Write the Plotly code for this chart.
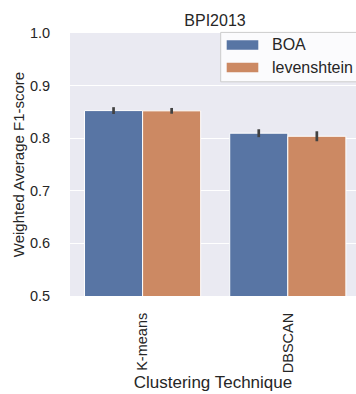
import plotly.graph_objects as go

# Weighted average F1-score per clustering technique on BPI2013
techniques = ["K-means", "DBSCAN"]
series_names = ["BOA", "levenshtein"]
f1_boa = [0.8525, 0.8095]
f1_lev = [0.8520, 0.8037]
ci_boa = [0.0065, 0.0075]
ci_lev = [0.0055, 0.0095]
y_ticks = [0.5, 0.6, 0.7, 0.8, 0.9, 1.0]

colors = ["#5875a4", "#cc8963"]
err_color = "#424242"
text_color = "#262626"
font_family = "Liberation Sans, Arial, sans-serif"

W, H = 356, 394
L, T, B = 70, 33.3, 98.3
plot_w = W - L
plot_h = H - T - B


def px_x(px):
    return (px - L) / plot_w


def px_y(py):
    return (H - B - py) / plot_h


fig = go.Figure()
for name, vals, ci, col in zip(series_names, [f1_boa, f1_lev], [ci_boa, ci_lev], colors):
    fig.add_trace(go.Bar(
        x=techniques, y=vals, name=name,
        marker=dict(color=col, line=dict(color="white", width=1)),
        error_y=dict(type="data", array=ci, color=err_color, thickness=2.7, width=0),
        showlegend=False,
    ))

# legend box (framed, semi-transparent white, runs past the right edge)
x0, x1 = px_x(220.7), px_x(372)
y0, y1 = px_y(82), px_y(32.7)
fig.add_shape(type="rect", xref="paper", yref="paper", x0=x0, x1=x1, y0=y0, y1=y1,
              fillcolor="rgba(255,255,255,0.8)", line=dict(color="#cccccc", width=1), layer="above")
for i, (name, col) in enumerate(zip(series_names, colors)):
    cy = 45.2 + i * 22.6
    fig.add_shape(type="rect", xref="paper", yref="paper",
                  x0=px_x(226.7), x1=px_x(258.3), y0=px_y(cy + 4.7), y1=px_y(cy - 4.7),
                  fillcolor=col, line=dict(width=0), layer="above")
    fig.add_annotation(xref="paper", yref="paper", x=px_x(270), y=px_y(cy), text=name,
                       showarrow=False, xanchor="left", yanchor="middle",
                       font=dict(size=16, color=text_color, family=font_family))

fig.update_layout(
    width=W, height=H,
    margin=dict(l=L, r=0, t=T, b=B, autoexpand=False),
    paper_bgcolor="white", plot_bgcolor="#eaeaf2",
    font=dict(family=font_family, color=text_color, size=14),
    barmode="group", bargap=0.2, bargroupgap=0,
    title=dict(text="BPI2013", x=px_x(215), xref="paper", xanchor="center",
               y=1 - 20.4 / H, yref="container", yanchor="middle",
               font=dict(size=16, color=text_color)),
)
fig.update_xaxes(
    range=[-0.5, -0.5 + plot_w / 145.2], showgrid=False, zeroline=False,
    tickangle=-90, ticks="outside", ticklen=10, tickcolor="rgba(0,0,0,0)",
    tickfont=dict(size=14.5),
    title=dict(text="Clustering Technique", font=dict(size=17), standoff=3),
)
fig.update_yaxes(
    range=[0.5, 1.0], tickvals=y_ticks, tickformat=".1f",
    showgrid=True, gridcolor="white", gridwidth=1.3, zeroline=False,
    ticks="outside", ticklen=16, tickcolor="rgba(0,0,0,0)",
    tickfont=dict(size=14.5),
    title=dict(text="Weighted Average F1-score", font=dict(size=15), standoff=1),
)

fig.write_html("out.html")
